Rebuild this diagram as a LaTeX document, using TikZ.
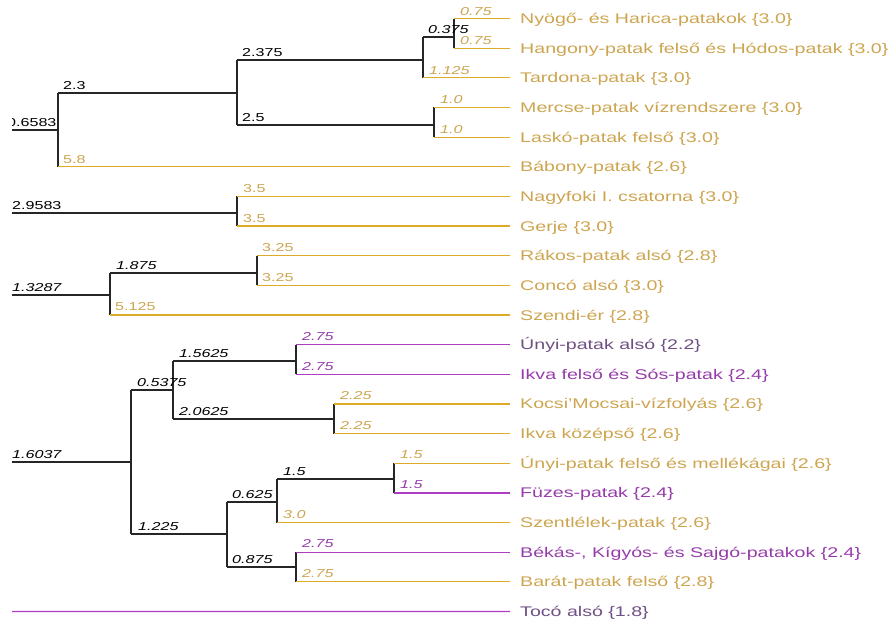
\documentclass[tikz,border=0pt]{standalone}
\usepackage{fontspec}
\setmainfont{Liberation Sans}
\usepackage{graphicx}
\definecolor{gline}{RGB}{220,172,40}
\definecolor{gtext}{RGB}{205,165,80}
\definecolor{pline}{RGB}{175,60,195}
\definecolor{ptext}{RGB}{150,60,170}
\definecolor{pdark}{RGB}{110,80,130}
\newcommand{\wx}[1]{\scalebox{1.4}[1]{#1}}
\tikzset{
  br/.style={draw=black!85, line width=1.2pt},
  gbr/.style={draw=gline, line width=1.2pt},
  pbr/.style={draw=pline, line width=1.2pt},
  leaf/.style={anchor=base west, inner sep=0pt, font=\fontsize{14}{14}\selectfont},
  num/.style={anchor=base west, inner sep=0pt, font=\fontsize{11.5}{11.5}\selectfont},
}
\begin{document}
\begin{tikzpicture}[x=1pt,y=-1pt]
\useasboundingbox (0,0) rectangle (896,619);
% leaf line ends
\foreach \n/\i in {Ny/0,Ha/1,Ta/2,Me/3,La/4,Ba/5,Na/6,Ge/7,Ra/8,Co/9,Sz/10,Ua/11,Ik/12,Ko/13,Ikk/14,Uf/15,Fu/16,Se/17,Be/18,Bar/19,To/20}{
  \coordinate (e\n) at (510,{18.5+29.65*\i});
}
% leaf labels
\node[leaf,text=gtext] (tNy) at (520,23.5) {\wx{Nyögő- és Harica-patakok \{3.0\}}};
\node[leaf,text=gtext] (tHa) at (520,53.15) {\wx{Hangony-patak felső és Hódos-patak \{3.0\}}};
\node[leaf,text=gtext] (tTa) at (520,82.8) {\wx{Tardona-patak \{3.0\}}};
\node[leaf,text=gtext] (tMe) at (520,112.45) {\wx{Mercse-patak vízrendszere \{3.0\}}};
\node[leaf,text=gtext] (tLa) at (520,142.1) {\wx{Laskó-patak felső \{3.0\}}};
\node[leaf,text=gtext] (tBa) at (520,171.75) {\wx{Bábony-patak \{2.6\}}};
\node[leaf,text=gtext] (tNa) at (520,201.4) {\wx{Nagyfoki I. csatorna \{3.0\}}};
\node[leaf,text=gtext] (tGe) at (520,231.05) {\wx{Gerje \{3.0\}}};
\node[leaf,text=gtext] (tRa) at (520,260.7) {\wx{Rákos-patak alsó \{2.8\}}};
\node[leaf,text=gtext] (tCo) at (520,290.35) {\wx{Concó alsó \{3.0\}}};
\node[leaf,text=gtext] (tSz) at (520,320) {\wx{Szendi-ér \{2.8\}}};
\node[leaf,text=pdark] (tUa) at (520,349.65) {\wx{Únyi-patak alsó \{2.2\}}};
\node[leaf,text=ptext] (tIk) at (520,379.3) {\wx{Ikva felső és Sós-patak \{2.4\}}};
\node[leaf,text=gtext] (tKo) at (520,408.95) {\wx{Kocsi'Mocsai-vízfolyás \{2.6\}}};
\node[leaf,text=gtext] (tIkk) at (520,438.6) {\wx{Ikva középső \{2.6\}}};
\node[leaf,text=gtext] (tUf) at (520,468.25) {\wx{Únyi-patak felső és mellékágai \{2.6\}}};
\node[leaf,text=ptext] (tFu) at (520,497.9) {\wx{Füzes-patak \{2.4\}}};
\node[leaf,text=gtext] (tSe) at (520,527.55) {\wx{Szentlélek-patak \{2.6\}}};
\node[leaf,text=ptext] (tBe) at (520,557.2) {\wx{Békás-, Kígyós- és Sajgó-patakok \{2.4\}}};
\node[leaf,text=gtext] (tBar) at (520,586.85) {\wx{Barát-patak felső \{2.8\}}};
\node[leaf,text=pdark] (tTo) at (520,616.5) {\wx{Tocó alsó \{1.8\}}};

% ---------- cluster A ----------
\coordinate (rA0) at (12,130);
\coordinate (rA) at (58,130);
\coordinate (a1) at (237,93);
\coordinate (a2) at (423,60);
\coordinate (a3) at (434,125);
\coordinate (a4) at (454,37);
\draw[br] (rA0) -- (rA);
\draw[br] (rA |- a1) -- (rA |- eBa);
\draw[br] (rA |- a1) -- (a1);
\draw[gbr] (rA |- eBa) -- (eBa);
\draw[br] (a1 |- a2) -- (a1 |- a3);
\draw[br] (a1 |- a2) -- (a2);
\draw[br] (a1 |- a3) -- (a3);
\draw[br] (a2 |- a4) -- (a2 |- eTa);
\draw[br] (a2 |- a4) -- (a4);
\draw[gbr] (a2 |- eTa) -- (eTa);
\draw[br] (a4 |- eNy) -- (a4 |- eHa);
\draw[gbr] (a4 |- eNy) -- (eNy);
\draw[gbr] (a4 |- eHa) -- (eHa);
\draw[br] (a3 |- eMe) -- (a3 |- eLa);
\draw[gbr] (a3 |- eMe) -- (eMe);
\draw[gbr] (a3 |- eLa) -- (eLa);
\begin{scope}
\clip (12,0) rectangle (896,619);
\node[num] (lA0) at (7,126) {\wx{0.6583}};
\end{scope}
\node[num] (lA1) at (63,89) {\wx{2.3}};
\node[num] (lA2) at (242,56) {\wx{2.375}};
\node[num] (lA3) at (242,121) {\wx{2.5}};
\node[num] (lA4) at (428,33) {\wx{\itshape 0.375}};
\node[num,text=gtext] (lNy) at (460,15) {\wx{\itshape 0.75}};
\node[num,text=gtext] (lHa) at (460,44.5) {\wx{\itshape 0.75}};
\node[num,text=gtext] (lTa) at (429,74) {\wx{\itshape 1.125}};
\node[num,text=gtext] (lMe) at (440,103.5) {\wx{\itshape 1.0}};
\node[num,text=gtext] (lLa) at (440,133) {\wx{\itshape 1.0}};
\node[num,text=gtext] (lBa) at (63,163) {\wx{5.8}};

% ---------- cluster B ----------
\coordinate (rB0) at (12,213);
\coordinate (rB) at (237,213);
\draw[br] (rB0) -- (rB);
\draw[br] (rB |- eNa) -- (rB |- eGe);
\draw[gbr] (rB |- eNa) -- (eNa);
\draw[gbr] (rB |- eGe) -- (eGe);
\node[num] (lB0) at (12,209) {\wx{2.9583}};
\node[num,text=gtext] (lNa) at (243,192) {\wx{3.5}};
\node[num,text=gtext] (lGe) at (243,222) {\wx{3.5}};

% ---------- cluster C ----------
\coordinate (rC0) at (12,295);
\coordinate (rC) at (110,295);
\coordinate (c1) at (257,273);
\draw[br] (rC0) -- (rC);
\draw[br] (rC |- c1) -- (rC |- eSz);
\draw[br] (rC |- c1) -- (c1);
\draw[gbr] (rC |- eSz) -- (eSz);
\draw[br] (c1 |- eRa) -- (c1 |- eCo);
\draw[gbr] (c1 |- eRa) -- (eRa);
\draw[gbr] (c1 |- eCo) -- (eCo);
\node[num] (lC0) at (12,291) {\wx{\itshape 1.3287}};
\node[num] (lC1) at (116,269) {\wx{\itshape 1.875}};
\node[num,text=gtext] (lRa) at (262,251) {\wx{3.25}};
\node[num,text=gtext] (lCo) at (262,281) {\wx{3.25}};
\node[num,text=gtext] (lSz) at (115,310) {\wx{5.125}};

% ---------- cluster D ----------
\coordinate (rD0) at (12,462);
\coordinate (rD) at (131,462);
\coordinate (d1) at (173,390);
\coordinate (d2) at (296,361);
\coordinate (d3) at (334,419);
\coordinate (d4) at (227,534);
\coordinate (d5) at (277,502);
\coordinate (d6) at (394,479);
\coordinate (d7) at (296,567);
\draw[br] (rD0) -- (rD);
\draw[br] (rD |- d1) -- (rD |- d4);
\draw[br] (rD |- d1) -- (d1);
\draw[br] (rD |- d4) -- (d4);
\draw[br] (d1 |- d2) -- (d1 |- d3);
\draw[br] (d1 |- d2) -- (d2);
\draw[br] (d1 |- d3) -- (d3);
\draw[br] (d2 |- eUa) -- (d2 |- eIk);
\draw[pbr] (d2 |- eUa) -- (eUa);
\draw[pbr] (d2 |- eIk) -- (eIk);
\draw[br] (d3 |- eKo) -- (d3 |- eIkk);
\draw[gbr] (d3 |- eKo) -- (eKo);
\draw[gbr] (d3 |- eIkk) -- (eIkk);
\draw[br] (d4 |- d5) -- (d4 |- d7);
\draw[br] (d4 |- d5) -- (d5);
\draw[br] (d4 |- d7) -- (d7);
\draw[br] (d5 |- d6) -- (d5 |- eSe);
\draw[br] (d5 |- d6) -- (d6);
\draw[gbr] (d5 |- eSe) -- (eSe);
\draw[br] (d6 |- eUf) -- (d6 |- eFu);
\draw[gbr] (d6 |- eUf) -- (eUf);
\draw[pbr] (d6 |- eFu) -- (eFu);
\draw[br] (d7 |- eBe) -- (d7 |- eBar);
\draw[pbr] (d7 |- eBe) -- (eBe);
\draw[gbr] (d7 |- eBar) -- (eBar);
\node[num] (lD0) at (12,458) {\wx{\itshape 1.6037}};
\node[num] (lD1) at (137,386) {\wx{\itshape 0.5375}};
\node[num] (lD2) at (179,357) {\wx{\itshape 1.5625}};
\node[num] (lD3) at (179,415) {\wx{\itshape 2.0625}};
\node[num] (lD4) at (138,530) {\wx{\itshape 1.225}};
\node[num] (lD5) at (232,498) {\wx{\itshape 0.625}};
\node[num] (lD6) at (283,475) {\wx{\itshape 1.5}};
\node[num] (lD7) at (232,563) {\wx{\itshape 0.875}};
\node[num,text=ptext] (lUa) at (302,340) {\wx{\itshape 2.75}};
\node[num,text=ptext] (lIk) at (302,370) {\wx{\itshape 2.75}};
\node[num,text=gtext] (lKo) at (340,399) {\wx{\itshape 2.25}};
\node[num,text=gtext] (lIkk) at (340,429) {\wx{\itshape 2.25}};
\node[num,text=gtext] (lUf) at (400,458) {\wx{\itshape 1.5}};
\node[num,text=ptext] (lFu) at (400,488) {\wx{\itshape 1.5}};
\node[num,text=gtext] (lSe) at (283,518) {\wx{\itshape 3.0}};
\node[num,text=ptext] (lBe) at (302,547) {\wx{\itshape 2.75}};
\node[num,text=gtext] (lBar) at (302,577) {\wx{\itshape 2.75}};
% ---------- Tocó ----------
\coordinate (rT0) at (12,611.5);
\draw[pbr] (rT0) -- (eTo);
\end{tikzpicture}
\end{document}
